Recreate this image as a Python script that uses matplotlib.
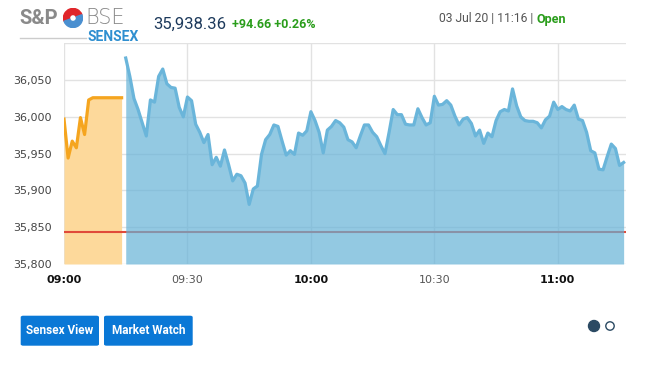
import matplotlib.pyplot as plt
from matplotlib.patches import FancyBboxPatch, Circle, Wedge

W, H = 648, 368

# pre-open session 09:00-09:14 (minutes after 09:00)
pre_min = list(range(0, 15))
pre_val = [35997, 35944, 35967, 35958, 35999, 35976, 36023, 36026,
           36026, 36026, 36026, 36026, 36026, 36026, 36026]

# normal session 09:15-11:16
mkt_min = list(range(15, 137))
mkt_val = [36080, 36055, 36025, 36010, 35992, 35974, 36023, 36020, 36055, 36065,
           36045, 36040, 36039, 36013, 36000, 36027, 36022, 35990, 35979, 35965,
           35976, 35935, 35945, 35933, 35955, 35935, 35913, 35922, 35920, 35910,
           35881, 35902, 35906, 35949, 35969, 35976, 35989, 35987, 35967, 35948,
           35954, 35949, 35978, 35975, 35981, 36007, 35995, 35979, 35951, 35982,
           35987, 35995, 35992, 35986, 35969, 35966, 35958, 35974, 35989, 35989,
           35979, 35973, 35961, 35950, 35979, 36010, 36003, 36003, 35990, 35989,
           35989, 36011, 35999, 35989, 35992, 36028, 36016, 36017, 36022, 36016,
           36001, 35989, 35997, 35999, 35991, 35974, 35982, 35964, 35978, 35973,
           35995, 36007, 36010, 36008, 36038, 36015, 36000, 35995, 35994, 35994,
           35992, 35985, 35996, 36001, 36020, 36010, 36014, 36010, 36008, 36016,
           35997, 35995, 35979, 35954, 35951, 35929, 35928, 35946, 35963, 35957,
           35934, 35938]

prev_close = 35843.70
y_ticks = [35800, 35850, 35900, 35950, 36000, 36050]
x_ticks = [0, 30, 60, 90, 120]
x_labels = ['09:00', '09:30', '10:00', '10:30', '11:00']

fig = plt.figure(figsize=(W / 100, H / 100), dpi=100)
ax = fig.add_axes([64 / W, 104 / H, (625.7 - 64) / W, (264 - 43.3) / H])

ymin, ymax = 35800, 36100
ax.set_ylim(ymin, ymax)
ax.set_xlim(0, 136.5)

ax.fill_between(pre_min, pre_val, ymin, color='#fdd99b', lw=0, zorder=2)
ax.plot(pre_min, pre_val, color='#f5a51f', lw=2.3, zorder=4, solid_joinstyle='round')
ax.axhline(prev_close, color='#e04a3a', lw=1.5, zorder=3)
# blue fill is see-through, so the red close line turns greyish under it
ax.fill_between(mkt_min, mkt_val, ymin, color='#65b2d7', alpha=0.7, lw=0, zorder=4)
ax.plot(mkt_min, mkt_val, color='#6ab5da', lw=2.3, zorder=5, solid_joinstyle='round')

ax.set_yticks(y_ticks + [36100])
ax.set_yticklabels([f'{v:,}' for v in y_ticks] + [''])
ax.set_xticks(x_ticks)
ax.set_xticklabels(x_labels)
for i, t in enumerate(ax.get_xticklabels()):
    if x_labels[i].endswith(':00'):
        t.set_fontweight('bold')
        t.set_color('#111111')
    else:
        t.set_color('#555555')
ax.tick_params(axis='both', length=0, labelsize=8)
ax.tick_params(axis='x', pad=8)
ax.tick_params(axis='y', pad=9, labelcolor='#444444')
ax.grid(True, color='#e2e2e2', lw=1, zorder=1)
ax.set_axisbelow(True)
for s in ax.spines.values():
    s.set_visible(False)


def fx(x):
    return x / W


def fy(y):
    return 1 - y / H


# logo
fig.text(fx(19), fy(18), 'S&P', color='#8a8a8a', fontsize=14.5, fontweight='bold',
         family='Roboto', va='center', ha='left')
la = fig.add_axes([fx(63), fy(28), 20 / W, 20 / H])
la.set_xlim(-1, 1)
la.set_ylim(-1, 1)
la.set_aspect('equal')
la.axis('off')
la.add_patch(Wedge((0, 0), 0.95, 20, 200, width=0.6, color='#e0262b'))
la.add_patch(Wedge((0, 0), 0.95, 200, 380, width=0.6, color='#4a8fd0'))
fig.text(fx(85), fy(18), 'BSE', color='#8a8a8a', fontsize=15, fontweight='light',
         family='DejaVu Sans', va='center', ha='left')
fig.text(fx(88), fy(37), 'SENSEX', color='#2f8fd0', fontsize=10, fontweight='bold',
         family='Roboto', va='center', ha='left')
fig.add_artist(plt.Line2D([fx(20), fx(86)], [fy(38), fy(38)], color='#cccccc', lw=1))

fig.text(fx(153), fy(24), '35,938.36', color='#1d3a5c', fontsize=12,
         family='Roboto', va='center', ha='left')
fig.text(fx(232), fy(25), '+94.66 +0.26%', color='#2a9d1b', fontsize=9,
         fontweight='bold', family='Roboto', va='center', ha='left')

t1 = fig.text(fx(439), fy(19), '03 Jul 20 | 11:16 |', color='#555555', fontsize=8.7,
              family='Roboto', va='center', ha='left')
fig.add_artist(plt.Annotation('Open', xy=(1, 0.5), xycoords=t1, xytext=(2.5, 0),
                              textcoords='offset points', color='#2a9d1b', fontsize=9,
                              fontweight='bold', family='Roboto', va='center', ha='left'))

# buttons
for x0, x1, label in [(20.7, 99, 'Sensex View'), (104, 192.7, 'Market Watch')]:
    box = FancyBboxPatch((fx(x0), fy(345.7)), fx(x1 - x0), (345.7 - 315.7) / H,
                         boxstyle='round,pad=0,rounding_size=0.004',
                         transform=fig.transFigure, color='#0a78d6', lw=0)
    fig.add_artist(box)
    fig.text(fx((x0 + x1) / 2), fy(331), label, color='white', fontsize=8.5,
             fontweight='bold', family='Roboto', va='center', ha='center')

# pager dots
da = fig.add_axes([fx(585), fy(336), 35 / W, 20 / H])
da.set_xlim(0, 35)
da.set_ylim(0, 20)
da.set_aspect('equal')
da.axis('off')
da.add_patch(Circle((9, 10), 5.5, color='#2b4a63'))
da.add_patch(Circle((25, 10), 4.2, facecolor='white', edgecolor='#2b4a63', lw=1))

fig.savefig('out.png', dpi=100)
